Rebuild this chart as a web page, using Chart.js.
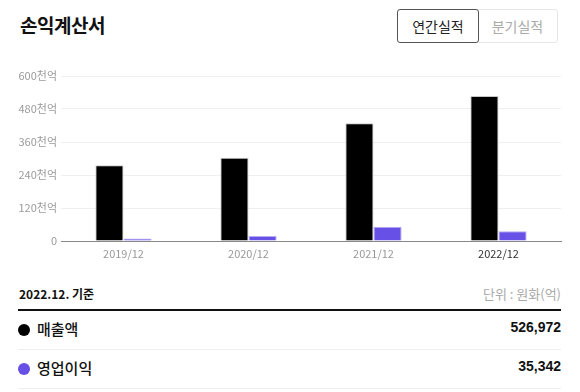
<!DOCTYPE html>
<html><head><meta charset="utf-8">
<script src="https://cdn.jsdelivr.net/npm/chart.js@4"></script>
<style>
body{margin:0;background:#fff;font-family:"Noto Sans CJK KR","Noto Sans",sans-serif;width:580px;height:392px;overflow:hidden;position:relative;color:#111}
.title{position:absolute;left:20px;top:11px;font-size:19px;font-weight:700;color:#111;letter-spacing:-0.5px}
.btn{position:absolute;top:9px;height:34px;box-sizing:border-box;font-size:14px;line-height:32px;text-align:center}
.b1{left:397px;width:82px;border:1.5px solid #555;border-radius:3px;color:#222;z-index:2;background:#fff}
.b2{left:477px;width:81px;border:1px solid #e6e6e6;border-radius:0 3px 3px 0;color:#aaa}
#wrap{position:absolute;left:0;top:60px;width:580px;height:205px}
.basis{position:absolute;left:19px;top:285px;font-size:12px;font-weight:700;color:#111}
.unit{position:absolute;right:19px;top:284px;font-size:13px;color:#aaa}
.thick{position:absolute;left:18px;width:543px;top:309px;height:2px;background:#111}
.row{position:absolute;left:18px;width:543px;height:38px;border-bottom:1px solid #eee}
.dot{position:absolute;left:0;top:13px;width:12px;height:12px;border-radius:50%}
.lab{position:absolute;left:19px;top:7px;font-size:15px;font-weight:500}
.val{position:absolute;right:0;top:8px;font-size:14px;font-weight:700;font-family:"Liberation Sans",Arial,sans-serif}
</style></head>
<body>
<div class="title">손익계산서</div>
<div class="btn b1">연간실적</div>
<div class="btn b2">분기실적</div>
<div id="wrap"><canvas id="c"></canvas></div>
<div class="basis">2022.12. 기준</div>
<div class="unit">단위 : 원화(억)</div>
<div class="thick"></div>
<div class="row" style="top:311px"><div class="dot" style="background:#000"></div><div class="lab">매출액</div><div class="val">526,972</div></div>
<div class="row" style="top:350px"><div class="dot" style="background:#6650e6"></div><div class="lab">영업이익</div><div class="val">35,342</div></div>
<script>
const categories = ['2019/12','2020/12','2021/12','2022/12'];
const salesValues = [275300, 303100, 428200, 526972];
const opProfitValues = [9000, 18000, 52000, 35342];
const yTickValues = [0,120000,240000,360000,480000,600000];
const seriesNames = ['매출액','영업이익'];

new Chart(document.getElementById('c'), {
  type:'bar',
  data:{labels:categories,datasets:[
    {label:seriesNames[0],data:salesValues,backgroundColor:'#000',borderColor:'#c8c8c8',borderWidth:{top:1,left:1,right:1,bottom:0},borderSkipped:'bottom',barPercentage:1,categoryPercentage:0.45},
    {label:seriesNames[1],data:opProfitValues,backgroundColor:'#6650e6',borderColor:'#b5abf2',borderWidth:{top:1,left:1,right:1,bottom:0},borderSkipped:'bottom',barPercentage:1,categoryPercentage:0.45}
  ]},
  options:{
    responsive:true,maintainAspectRatio:false,animation:false,
    layout:{padding:{top:16,right:19,bottom:0,left:0}},
    plugins:{legend:{display:false},tooltip:{enabled:false}},
    scales:{
      x:{grid:{display:false,drawTicks:false},border:{color:'#888',width:1},
         ticks:{padding:6,font:{size:11,family:'"Noto Sans CJK KR"'},color:(ctx)=>ctx.index===categories.length-1?'#333':'#999'},
         afterFit:(s)=>{s.height=24;}},
      y:{min:0,max:600000,
         afterBuildTicks:(s)=>{s.ticks=yTickValues.map(v=>({value:v}));},
         grid:{color:(ctx)=>ctx.tick&&ctx.tick.value===0?'rgba(0,0,0,0)':'#efefef',drawTicks:false},
         border:{display:false},
         ticks:{padding:4,font:{size:11,family:'"Noto Sans CJK KR"'},color:'#9a9a9a',
           callback:(v)=>v===0?'0':(v/1000)+'천억'},
         afterFit:(s)=>{s.width=61;}}
    }
  }
});
</script>
</body></html>
